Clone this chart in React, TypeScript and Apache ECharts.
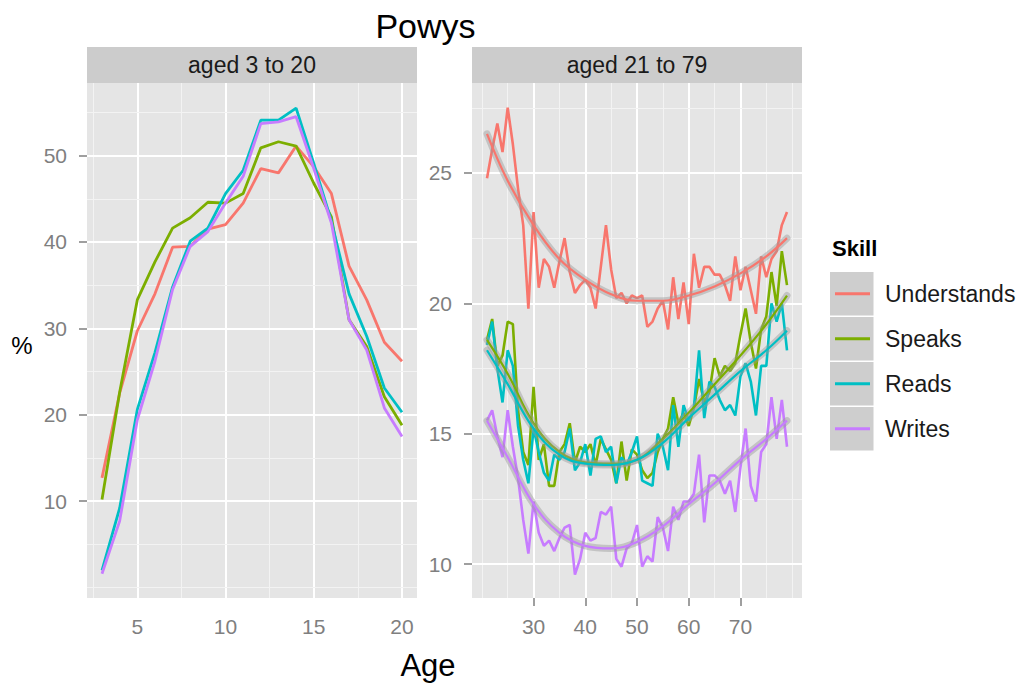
import React, { useEffect, useRef } from "react";
import * as echarts from "echarts";

const FONT = "'Liberation Sans', Arial, Helvetica, sans-serif";

const skills = ["Understands", "Speaks", "Reads", "Writes"];
const skillColors = ["#F8766D", "#7CAE00", "#00BFC4", "#C77CFF"];

// Panel 1: aged 3 to 20
const youngAges = [3, 4, 5, 6, 7, 8, 9, 10, 11, 12, 13, 14, 15, 16, 17, 18, 19, 20];
const youngUnderstands = [12.7, 22.5, 29.7, 34.0, 39.4, 39.5, 41.5, 42.0, 44.5, 48.5, 48.0, 51.1, 48.7, 45.6, 37.2, 33.3, 28.4, 26.2];
const youngSpeaks = [10.2, 22.6, 33.3, 37.7, 41.6, 42.8, 44.6, 44.5, 45.6, 50.9, 51.6, 51.1, 46.8, 42.9, 31.0, 27.9, 22.1, 18.8];
const youngReads = [2.0, 9.2, 20.6, 27.2, 34.8, 40.1, 41.6, 45.6, 48.3, 54.1, 54.1, 55.5, 49.1, 42.4, 34.0, 29.1, 23.1, 20.3];
const youngWrites = [1.6, 7.7, 19.4, 26.2, 34.5, 39.5, 41.2, 44.5, 47.6, 53.7, 53.9, 54.5, 48.5, 42.2, 31.0, 27.5, 20.8, 17.5];

// Panel 2: aged 21 to 79
const oldAges = [
  21, 22, 23, 24, 25, 26, 27, 28, 29, 30, 31, 32, 33, 34, 35, 36, 37, 38, 39, 40,
  41, 42, 43, 44, 45, 46, 47, 48, 49, 50, 51, 52, 53, 54, 55, 56, 57, 58, 59, 60,
  61, 62, 63, 64, 65, 66, 67, 68, 69, 70, 71, 72, 73, 74, 75, 76, 77, 78, 79,
];
const oldUnderstands = [
  24.8, 25.9, 26.9, 25.8, 27.5, 26.1, 24.4, 23.0, 19.8, 23.5, 20.6, 21.7, 21.4, 20.6, 21.6, 22.5, 21.2, 20.4, 20.7, 20.9,
  20.6, 19.8, 21.4, 23.0, 21.3, 20.2, 20.4, 20.0, 20.3, 20.2, 20.3, 19.1, 19.3, 19.8, 20.1, 19.0, 21.0, 19.4, 20.8, 19.2,
  21.9, 20.6, 21.4, 21.4, 21.1, 21.1, 20.7, 20.1, 21.8, 20.5, 21.4, 20.5, 19.6, 21.8, 21.0, 21.7, 22.0, 23.0, 23.5,
];
const oldSpeaks = [
  18.6, 19.4, 17.6, 18.0, 19.3, 19.2, 15.9, 14.3, 13.8, 16.8, 14.0, 14.6, 13.0, 13.0, 14.3, 14.6, 15.4, 13.9, 14.5, 14.3,
  14.6, 13.8, 14.8, 14.4, 14.0, 13.1, 14.7, 13.2, 14.4, 14.2, 13.6, 13.3, 13.5, 14.3, 14.8, 15.2, 16.4, 15.4, 15.8, 15.3,
  16.0, 17.1, 16.2, 16.6, 17.9, 17.2, 17.6, 17.4, 17.7, 18.8, 19.8, 18.5, 17.5, 19.0, 19.5, 21.2, 19.9, 22.0, 20.7,
];
const oldReads = [
  18.4, 19.3, 17.5, 16.2, 18.2, 17.6, 15.3, 14.0, 13.1, 15.2, 14.3, 13.5, 13.2, 14.2, 14.0, 14.3, 15.2, 13.6, 13.9, 14.6,
  13.4, 14.8, 14.9, 14.3, 14.5, 13.1, 14.1, 13.8, 14.3, 14.9, 13.2, 13.1, 13.0, 15.0, 14.5, 13.6, 16.1, 14.5, 16.1, 15.5,
  16.0, 18.2, 15.6, 17.0, 16.8, 16.3, 15.9, 16.1, 15.7, 17.2, 17.7, 17.0, 15.7, 17.6, 17.6, 20.0, 19.3, 20.0, 18.2,
];
const oldWrites = [
  15.5, 15.9, 14.9, 14.1, 15.9, 14.5, 13.3, 11.7, 10.4, 12.4, 11.2, 10.7, 10.9, 10.5, 11.0, 11.4, 11.5, 9.6, 10.2, 11.2,
  10.9, 11.0, 12.0, 11.9, 12.2, 10.2, 9.9, 10.6, 10.8, 11.5, 9.9, 10.3, 10.1, 11.8, 11.4, 10.5, 12.2, 11.7, 12.4, 12.4,
  12.7, 14.2, 11.6, 13.4, 13.4, 13.2, 12.7, 13.2, 12.0, 13.7, 15.2, 13.0, 12.4, 14.3, 14.6, 16.4, 14.8, 16.3, 14.5,
];

// Smoothed (loess) curves, read at selected ages
const smoothAges = [21, 25, 30, 35, 40, 45, 50, 55, 60, 65, 70, 75, 79];
const smoothUnderstands = [26.5, 24.7, 23.0, 21.7, 20.9, 20.35, 20.1, 20.1, 20.3, 20.65, 21.15, 21.8, 22.5];
const smoothSpeaks = [18.6, 17.3, 15.4, 14.3, 13.9, 13.85, 14.0, 14.8, 15.8, 16.9, 18.0, 19.2, 20.3];
const smoothReads = [18.2, 16.9, 15.2, 14.2, 13.85, 13.8, 14.0, 14.65, 15.6, 16.5, 17.4, 18.2, 18.95];
const smoothWrites = [15.5, 14.1, 12.3, 11.2, 10.7, 10.6, 10.85, 11.45, 12.3, 13.1, 14.0, 14.8, 15.5];

// Axis ticks and grid lines
const leftXTicks = [5, 10, 15, 20];
const leftYTicks = [10, 20, 30, 40, 50];
const rightXTicks = [30, 40, 50, 60, 70];
const rightYTicks = [10, 15, 20, 25];
const leftXMinor = [2.5, 7.5, 12.5, 17.5];
const leftYMinor = [0, 5, 15, 25, 35, 45, 55];
const rightXMinor = [20, 25, 35, 45, 55, 65, 75, 80];
const rightYMinor = [12.5, 17.5, 22.5, 27.5];

const youngData = [youngUnderstands, youngSpeaks, youngReads, youngWrites];
const oldData = [oldUnderstands, oldSpeaks, oldReads, oldWrites];
const smoothData = [smoothUnderstands, smoothSpeaks, smoothReads, smoothWrites];

const pair = (xs: number[], ys: number[]) => xs.map((x, i) => [x, ys[i]]);

const gridLines = (key: "xAxis" | "yAxis", majors: number[], minors: number[]) => [
  ...minors.map((v) => ({ [key]: v, lineStyle: { color: "#F3F3F3", width: 1, type: "solid" } })),
  ...majors.map((v) => ({ [key]: v, lineStyle: { color: "#FFFFFF", width: 2, type: "solid" } })),
];

const axisCommon = (ticks: number[], margin: number) => ({
  type: "value",
  axisLine: { show: false },
  splitLine: { show: false },
  axisTick: { show: true, length: 8, customValues: ticks, lineStyle: { color: "#7F7F7F", width: 1.5 } },
  axisLabel: { customValues: ticks, color: "#7F7F7F", fontSize: 21, margin, fontFamily: FONT },
});

export default function App() {
  const ref = useRef<HTMLDivElement>(null);

  useEffect(() => {
    if (!ref.current) return;
    const chart = echarts.init(ref.current, null, { renderer: "svg" });

    const gridDummy = (idx: number, xMaj: number[], xMin: number[], yMaj: number[], yMin: number[]) => ({
      name: "grid" + idx,
      type: "line",
      xAxisIndex: idx,
      yAxisIndex: idx,
      data: [[xMaj[0], yMaj[0]]],
      symbol: "none",
      lineStyle: { opacity: 0 },
      silent: true,
      markLine: {
        silent: true,
        z: 1,
        symbol: ["none", "none"],
        label: { show: false },
        emphasis: { disabled: true },
        data: [...gridLines("xAxis", xMaj, xMin), ...gridLines("yAxis", yMaj, yMin)],
      },
    });

    const leftSeries = skills.map((s, i) => ({
      name: s,
      type: "line",
      xAxisIndex: 0,
      yAxisIndex: 0,
      data: pair(youngAges, youngData[i]),
      symbol: "none",
      lineStyle: { color: skillColors[i], width: 2.8 },
      itemStyle: { color: skillColors[i] },
      z: 3,
    }));

    const rightRaw = skills.map((s, i) => ({
      name: s,
      type: "line",
      xAxisIndex: 1,
      yAxisIndex: 1,
      data: pair(oldAges, oldData[i]),
      symbol: "none",
      lineStyle: { color: skillColors[i], width: 2.6 },
      itemStyle: { color: skillColors[i] },
      z: 3,
    }));

    const rightSmooth: any[] = [];
    skills.forEach((s, i) => {
      rightSmooth.push({
        name: s + " band",
        type: "line",
        xAxisIndex: 1,
        yAxisIndex: 1,
        data: pair(smoothAges, smoothData[i]),
        symbol: "none",
        smooth: 0.4,
        lineStyle: { color: "rgba(153,153,153,0.45)", width: 7, cap: "round" },
        z: 3,
      });
      rightSmooth.push({
        name: s + " fit",
        type: "line",
        xAxisIndex: 1,
        yAxisIndex: 1,
        data: pair(smoothAges, smoothData[i]),
        symbol: "none",
        smooth: 0.4,
        lineStyle: { color: skillColors[i], width: 2.2 },
        itemStyle: { color: skillColors[i] },
        z: 3,
      });
    });

    const keyRects = skills.map((_, i) => ({
      type: "rect",
      shape: { x: 830, y: 272 + i * 45, width: 43.5, height: 43.5 },
      style: { fill: "#CECECE" },
      z: 0,
    }));

    const option: any = {
      animation: false,
      backgroundColor: "#FFFFFF",
      textStyle: { fontFamily: FONT },
      grid: [
        { left: 87, top: 83, width: 330, height: 515, show: true, backgroundColor: "#E5E5E5", borderWidth: 0 },
        { left: 472, top: 83, width: 330, height: 515, show: true, backgroundColor: "#E5E5E5", borderWidth: 0 },
      ],
      xAxis: [
        { ...axisCommon(leftXTicks, 18), gridIndex: 0, min: 2.15, max: 20.85 },
        { ...axisCommon(rightXTicks, 18), gridIndex: 1, min: 18.1, max: 81.9 },
      ],
      yAxis: [
        { ...axisCommon(leftYTicks, 20), gridIndex: 0, min: -1.2, max: 58.4 },
        { ...axisCommon(rightYTicks, 20), gridIndex: 1, min: 8.7, max: 28.45 },
      ],
      legend: {
        data: skills,
        orient: "vertical",
        left: 835,
        top: 272,
        padding: 0,
        itemWidth: 35,
        itemHeight: 3,
        itemGap: 1.5,
        icon: "rect",
        selectedMode: false,
        textStyle: { fontSize: 23, color: "#1A1A1A", lineHeight: 43.5, padding: [0, 0, 0, 10], fontFamily: FONT },
      },
      graphic: [
        {
          type: "text",
          x: 425.5,
          y: 26,
          style: { text: "Powys", fontSize: 34, fill: "#000000", align: "center", verticalAlign: "middle", fontFamily: FONT },
        },
        { type: "rect", shape: { x: 87, y: 47, width: 330, height: 36 }, style: { fill: "#CCCCCC" } },
        { type: "rect", shape: { x: 472, y: 47, width: 330, height: 36 }, style: { fill: "#CCCCCC" } },
        {
          type: "text",
          x: 252,
          y: 65,
          style: { text: "aged 3 to 20", fontSize: 23, fill: "#1A1A1A", align: "center", verticalAlign: "middle", fontFamily: FONT },
        },
        {
          type: "text",
          x: 637,
          y: 65,
          style: { text: "aged 21 to 79", fontSize: 23, fill: "#1A1A1A", align: "center", verticalAlign: "middle", fontFamily: FONT },
        },
        {
          type: "text",
          x: 428,
          y: 665,
          style: { text: "Age", fontSize: 31, fill: "#000000", align: "center", verticalAlign: "middle", fontFamily: FONT },
        },
        {
          type: "text",
          x: 22,
          y: 345,
          style: { text: "%", fontSize: 24, fill: "#000000", align: "center", verticalAlign: "middle", fontFamily: FONT },
        },
        {
          type: "text",
          x: 832,
          y: 248,
          style: { text: "Skill", fontSize: 22, fontWeight: "bold", fill: "#000000", align: "left", verticalAlign: "middle", fontFamily: FONT },
        },
        ...keyRects,
      ],
      series: [
        gridDummy(0, leftXTicks, leftXMinor, leftYTicks, leftYMinor),
        gridDummy(1, rightXTicks, rightXMinor, rightYTicks, rightYMinor),
        ...leftSeries,
        ...rightRaw,
        ...rightSmooth,
      ],
    };

    chart.setOption(option);
    return () => chart.dispose();
  }, []);

  return (
    <div
      ref={ref}
      style={{ position: "fixed", left: 0, top: 0, width: 1027, height: 686, background: "#FFFFFF" }}
    />
  );
}
